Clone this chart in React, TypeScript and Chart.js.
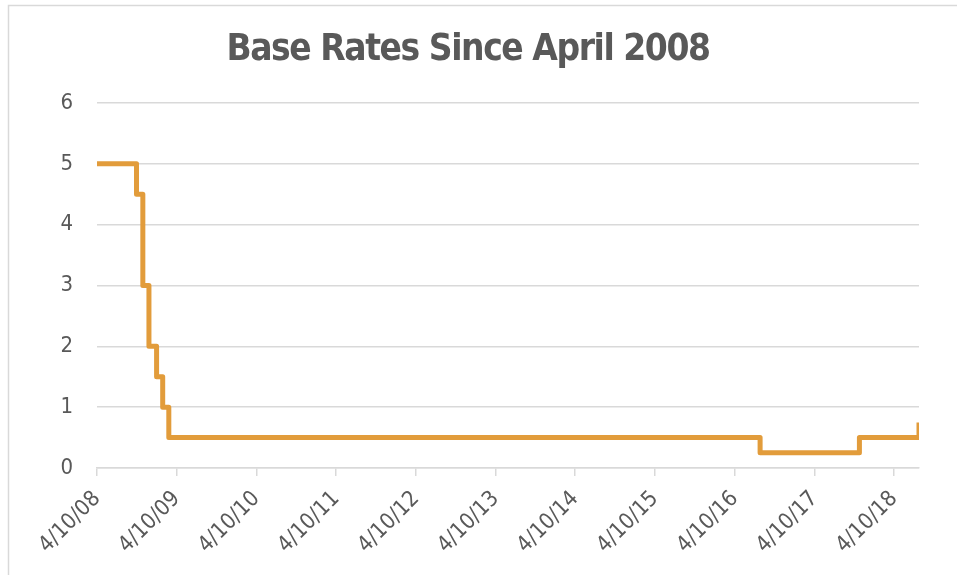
import React, { useEffect, useRef } from "react";
import { Chart, registerables } from "chart.js";

Chart.register(...registerables);

const rateDates = [
  "2008-04-10",
  "2008-10-08",
  "2008-11-06",
  "2008-12-04",
  "2009-01-08",
  "2009-02-05",
  "2009-03-05",
  "2016-08-04",
  "2017-11-02",
  "2018-08-02",
];
const rateValues = [5, 4.5, 3, 2, 1.5, 1, 0.5, 0.25, 0.5, 0.75];

const tickDates = [
  "2008-04-10",
  "2009-04-10",
  "2010-04-10",
  "2011-04-10",
  "2012-04-10",
  "2013-04-10",
  "2014-04-10",
  "2015-04-10",
  "2016-04-10",
  "2017-04-10",
  "2018-04-10",
];
const tickLabels = [
  "4/10/08",
  "4/10/09",
  "4/10/10",
  "4/10/11",
  "4/10/12",
  "4/10/13",
  "4/10/14",
  "4/10/15",
  "4/10/16",
  "4/10/17",
  "4/10/18",
];

const yTicks = [0, 1, 2, 3, 4, 5, 6];
const titleText = "Base Rates Since April 2008";

const DAY = 86400000;
const origin = Date.parse(rateDates[0]);
const toDay = (d: string) => (Date.parse(d) - origin) / DAY;

const GRAY_TEXT = "#595959";
const GRID = "#D9D9D9";
const LINE = "#E29C3B";
const FONT = "'DejaVu Sans Condensed', 'DejaVu Sans', sans-serif";

export default function App() {
  const ref = useRef<HTMLCanvasElement | null>(null);

  useEffect(() => {
    if (!ref.current) return;
    const points = rateDates.map((d, i) => ({ x: toDay(d), y: rateValues[i] }));
    const tickVals = tickDates.map(toDay);

    const framePlugin = {
      id: "frameAndTitle",
      beforeDraw(chart: any) {
        const ctx = chart.ctx;
        ctx.save();
        ctx.fillStyle = "#ffffff";
        ctx.fillRect(0, 0, chart.width, chart.height);
        ctx.strokeStyle = GRID;
        ctx.lineWidth = 1.5;
        ctx.beginPath();
        ctx.moveTo(8.5, chart.height);
        ctx.lineTo(8.5, 5.5);
        ctx.lineTo(chart.width, 5.5);
        ctx.stroke();
        ctx.restore();
      },
      afterDraw(chart: any) {
        const ctx = chart.ctx;
        ctx.save();
        ctx.fillStyle = GRAY_TEXT;
        ctx.font = `bold 38px ${FONT}`;
        try {
          (ctx as any).letterSpacing = "-1.5px";
        } catch (e) {}
        ctx.textAlign = "center";
        ctx.textBaseline = "middle";
        const w = ctx.measureText(titleText).width;
        const sx = Math.min(1, 483 / w);
        ctx.translate(468, 50);
        ctx.scale(sx, 1);
        ctx.fillText(titleText, 0, 0);
        ctx.restore();
      },
    };

    const chart = new Chart(ref.current, {
      type: "line",
      data: {
        datasets: [
          {
            data: points,
            borderColor: LINE,
            borderWidth: 5,
            stepped: true,
            pointRadius: 0,
            fill: false,
            borderJoinStyle: "round",
          },
        ],
      },
      options: {
        animation: false,
        responsive: false,
        maintainAspectRatio: false,
        layout: { padding: { left: 0, right: 38, top: 103, bottom: 0 } },
        plugins: { legend: { display: false }, tooltip: { enabled: false }, title: { display: false } },
        scales: {
          x: {
            type: "linear",
            min: 0,
            max: toDay(rateDates[rateDates.length - 1]),
            afterBuildTicks(scale: any) {
              scale.ticks = tickVals.map((v) => ({ value: v }));
            },
            afterFit(scale: any) {
              scale.height = 107;
            },
            ticks: {
              autoSkip: false,
              minRotation: 45,
              maxRotation: 45,
              padding: 10,
              color: GRAY_TEXT,
              font: { family: FONT, size: 22 },
              callback(value: any) {
                const idx = tickVals.indexOf(Number(value));
                return idx >= 0 ? tickLabels[idx] : "";
              },
            },
            grid: { drawOnChartArea: false, drawTicks: true, tickLength: 8, color: GRID, lineWidth: 1.5 },
            border: { display: true, color: GRID, width: 1.5 },
          },
          y: {
            min: 0,
            max: 6,
            afterBuildTicks(scale: any) {
              scale.ticks = yTicks.map((v) => ({ value: v }));
            },
            afterFit(scale: any) {
              scale.width = 97;
            },
            ticks: {
              padding: 24,
              color: GRAY_TEXT,
              font: { family: FONT, size: 22 },
            },
            grid: { drawTicks: false, color: GRID, lineWidth: 1.5 },
            border: { display: false },
          },
        },
      },
      plugins: [framePlugin],
    } as any);

    return () => chart.destroy();
  }, []);

  return (
    <div style={{ position: "fixed", left: 0, top: 0, width: 957, height: 575, background: "#fff" }}>
      <canvas ref={ref} width={957} height={575} style={{ width: 957, height: 575, display: "block" }} />
    </div>
  );
}
